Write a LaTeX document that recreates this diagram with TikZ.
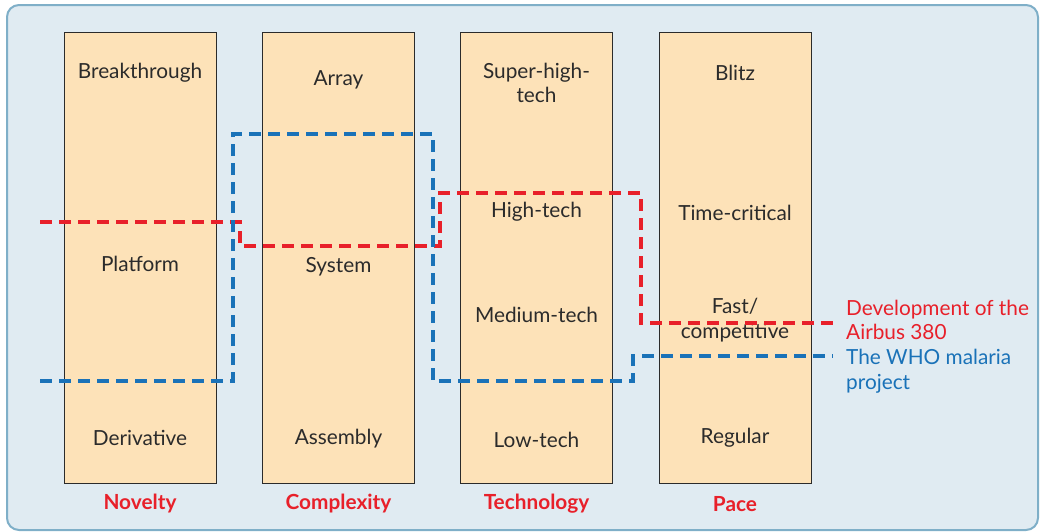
\documentclass[tikz,border=0pt]{standalone}
\usepackage{fontspec}
\setmainfont{Lato}
\usetikzlibrary{positioning,calc}
\definecolor{framebg}{HTML}{E0EBF2}
\definecolor{frameline}{HTML}{7FAFC8}
\definecolor{peach}{HTML}{FDE2B8}
\definecolor{ink}{HTML}{2B2B2B}
\definecolor{airbus}{HTML}{E8202A}
\definecolor{who}{HTML}{1A72B8}
\tikzset{
  every node/.style={font=\fontsize{20.8}{24.5}\selectfont,text=ink},
  frame/.style={draw=frameline,line width=2pt,fill=framebg,rounded corners=12pt},
  colbox/.style={draw=ink,line width=1pt,fill=peach,inner sep=0pt,minimum width=152pt,minimum height=451pt},
  level/.style={align=center,inner sep=1pt},
  axis/.style={font=\fontsize{20.8}{24.5}\selectfont\bfseries,text=airbus},
  legend/.style={anchor=west,align=left,inner sep=0pt},
  profile/.style={line width=3.5pt,dash pattern=on 12pt off 7pt}
}
\begin{document}
\begin{tikzpicture}[x=1pt,y=-1pt]
  \useasboundingbox (0,0) rectangle (1040,531);
  \draw[frame] (7,5) rectangle (1038,530);
  % columns
  \foreach \x/\name/\head in {140/novelty/Novelty,338.5/complexity/Complexity,536.5/technology/Technology,735/pace/Pace} {
    \node[colbox] (\name) at (\x,257.5) {};
    \node[axis] (h\name) at (\x,504) {\head};
  }
  \node[level] (breakthrough) at (140,73) {Breakthrough};
  \node[level] (platform) at (140,264) {Platform};
  \node[level] (derivative) at (140,438) {Derivative};
  \node[level] (array) at (338.5,80) {Array};
  \node[level] (system) at (338.5,267) {System};
  \node[level] (assembly) at (338.5,439) {Assembly};
  \node[level] (superhigh) at (536.5,83) {Super-high-\\tech};
  \node[level] (hightech) at (536.5,212) {High-tech};
  \node[level] (mediumtech) at (536.5,315) {Medium-tech};
  \node[level] (lowtech) at (536.5,440) {Low-tech};
  \node[level] (blitz) at (735,73) {Blitz};
  \node[level] (timecritical) at (735,213) {Time-critical};
  \node[level] (fast) at (735,320) {Fast/\\competitive};
  \node[level] (regular) at (735,438) {Regular};
  % project profiles
  \draw[profile,airbus] (40,222) -| (240,246) -| (440,193) -| (641,323) -- (833,323);
  \draw[profile,who] (40,381) -| (233,134) -| (433,381) -| (633,356) -- (833,356);
  \node[legend,text=airbus] (airbus380) at (846,320) {Development of the\\Airbus 380};
  \node[legend,text=who] (malaria) at (846,371) {The WHO malaria\\project};
\end{tikzpicture}
\end{document}
